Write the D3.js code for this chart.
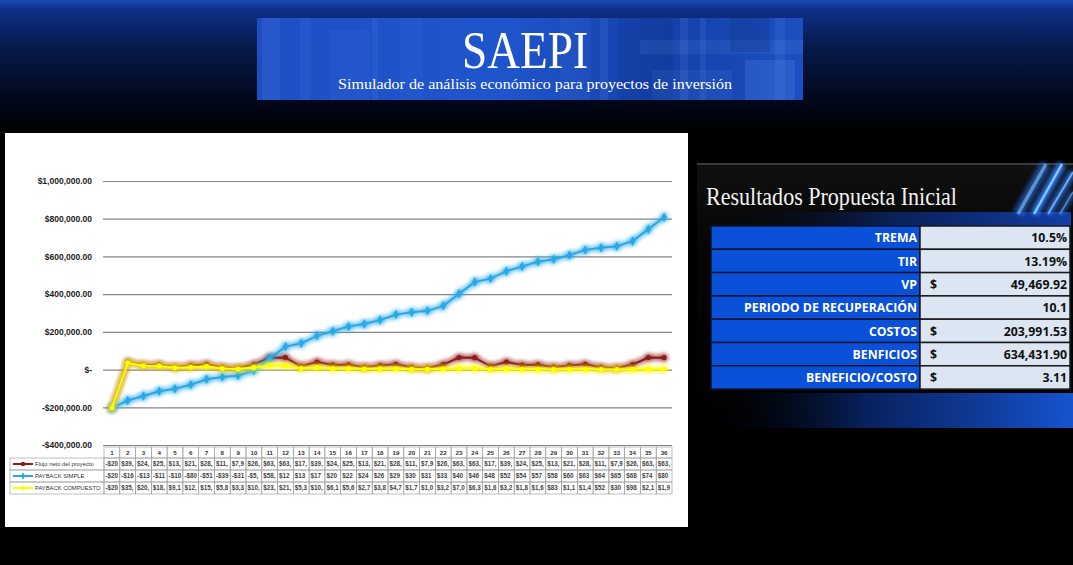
<!DOCTYPE html>
<html>
<head>
<meta charset="utf-8">
<style>
  html, body { margin: 0; padding: 0; background: #000; overflow: hidden; }
</style>
</head>
<body>
<svg id="saepi" width="1073" height="565" viewBox="0 0 1073 565" xmlns="http://www.w3.org/2000/svg"></svg>
<script src="https://d3js.org/d3.v7.min.js"></script>
<script>
// ---- data ----
const periods = [1, 2, 3, 4, 5, 6, 7, 8, 9, 10, 11, 12, 13, 14, 15, 16, 17, 18,
  19, 20, 21, 22, 23, 24, 25, 26, 27, 28, 29, 30, 31, 32, 33, 34, 35, 36];

const flujoNeto = [-203991.53, 39650, 24520, 25210, 13120, 21140, 28650, 11980, 7960,
  26600, 63540, 63320, 17450, 39650, 24520, 25210, 13120, 21140, 28650, 11980, 7960,
  26600, 63540, 63320, 17450, 39650, 24520, 25210, 13120, 21140, 28650, 11980, 7960,
  26600, 63540, 63320];

const paybackSimple = [-203991.53, -164341.53, -139821.53, -114611.53, -101491.53,
  -80351.53, -51701.53, -39721.53, -31761.53, -5161.53, 58378.47, 121698.47, 139148.47,
  178798.47, 203318.47, 228528.47, 241648.47, 262788.47, 291438.47, 303418.47, 311378.47,
  337978.47, 401518.47, 464838.47, 482288.47, 521938.47, 546458.47, 571668.47, 584788.47,
  605928.47, 634578.47, 646558.47, 654518.47, 681118.47, 744658.47, 807978.47];

const paybackCompuesto = [-203991.53, 35882.35, 20082.12, 18685.41, 9100.23, 12832.47,
  15738.61, 5855.02, 3312.44, 10830.18, 23411.05, 21113.27, 5312.66, 10827.41, 6120.35,
  5638.17, 2712.48, 3872.90, 4749.31, 1797.55, 1080.62, 3268.20, 7064.37, 6370.12,
  1632.08, 3266.45, 1828.93, 1670.22, 831.27, 1168.44, 1432.90, 528.61, 308.74, 987.15,
  2131.08, 1922.64];

const seriesNames = ["Flujo neto del proyecto", "PAYBACK SIMPLE", "PAYBACK COMPUESTO"];
const seriesColors = ["#8b1a1a", "#29a8e6", "#ffff00"];

const yTicks = [-400000, -200000, 0, 200000, 400000, 600000, 800000, 1000000];

const resultLabels = ["TREMA", "TIR", "VP", "PERIODO DE RECUPERACIÓN", "COSTOS", "BENFICIOS", "BENEFICIO/COSTO"];
const resultValues = ["10.5%", "13.19%", "49,469.92", "10.1", "203,991.53", "634,431.90", "3.11"];
const resultDollar = [false, false, true, false, true, true, true];

// ---- setup ----
const svg = d3.select("#saepi");
const defs = svg.append("defs");

const money = d3.format(",.2f");
const axisFmt = v => v === 0 ? "$-" : (v < 0 ? "-$" + money(-v) : "$" + money(v));
const cellFmt = v => v < 0 ? "-$" + money(-v) : "$" + money(v);

function linGrad(id, x1, y1, x2, y2, stops) {
  const g = defs.append("linearGradient").attr("id", id)
    .attr("x1", x1).attr("y1", y1).attr("x2", x2).attr("y2", y2);
  stops.forEach(s => g.append("stop").attr("offset", s[0]).attr("stop-color", s[1]).attr("stop-opacity", s[2] == null ? 1 : s[2]));
}

linGrad("topBg", 0, 0, 0, 1, [[0, "#1848b8"], [0.08, "#0d2f86"], [0.35, "#071a4c"], [0.75, "#02081c"], [1, "#000"]]);
linGrad("banner", 0, 0, 1, 0, [[0, "#1d4fc4"], [0.45, "#1f55cc"], [0.75, "#1540a8"], [1, "#1c4fc0"]]);
linGrad("panelBg", 0, 0, 0, 1, [[0, "#101010"], [0.3, "#060606"], [1, "#000"]]);
linGrad("bottomBlue", 0, 0, 1, 0, [[0, "#000", 0], [0.45, "#0a2a78", 0.8], [1, "#1654d0"]]);
linGrad("topBlue", 0, 0, 1, 0, [[0, "#000", 0], [0.5, "#0b2a78", 0.7], [1, "#123fa8"]]);

// glow filters for the chart lines
seriesColors.forEach((c, i) => {
  const f = defs.append("filter").attr("id", "glow" + i)
    .attr("filterUnits", "userSpaceOnUse")
    .attr("x", 0).attr("y", 0).attr("width", 1073).attr("height", 565);
  f.append("feGaussianBlur").attr("in", "SourceGraphic").attr("stdDeviation", 2.8).attr("result", "b");
  const m = f.append("feMerge");
  m.append("feMergeNode").attr("in", "b");
  m.append("feMergeNode").attr("in", "b");
  m.append("feMergeNode").attr("in", "SourceGraphic");
});
const streakGlow = defs.append("filter").attr("id", "streak")
  .attr("filterUnits", "userSpaceOnUse").attr("x", 0).attr("y", 0).attr("width", 1073).attr("height", 565);
streakGlow.append("feGaussianBlur").attr("stdDeviation", 2);

// ---- page background ----
svg.append("rect").attr("width", 1073).attr("height", 565).attr("fill", "#000");
svg.append("rect").attr("width", 1073).attr("height", 132).attr("fill", "url(#topBg)");

// banner
const banner = svg.append("g");
banner.append("rect").attr("x", 257).attr("y", 18).attr("width", 546).attr("height", 82).attr("fill", "url(#banner)");
[[262, 18, 18, 82, 0.10], [300, 18, 10, 82, 0.08], [330, 30, 40, 70, 0.06], [372, 18, 6, 82, 0.10],
 [400, 18, 22, 82, 0.05], [560, 18, 30, 82, 0.06], [600, 18, 8, 82, 0.10], [618, 18, 55, 82, 0.12, "#0a1f66"],
 [640, 40, 163, 14, 0.10], [680, 18, 8, 82, 0.12], [700, 18, 6, 82, 0.10], [730, 18, 40, 34, 0.18, "#0a1f66"],
 [745, 60, 50, 40, 0.16], [775, 18, 10, 82, 0.12], [652, 70, 80, 30, 0.08]]
  .forEach(r => banner.append("rect").attr("x", r[0]).attr("y", r[1]).attr("width", r[2]).attr("height", r[3])
    .attr("fill", r[5] || "#7fb0ff").attr("opacity", r[4]));
banner.append("text").attr("x", 525).attr("y", 68).attr("text-anchor", "middle")
  .attr("font-family", "'Liberation Serif', 'DejaVu Serif', serif").attr("font-size", 52)
  .attr("textLength", 126).attr("lengthAdjust", "spacingAndGlyphs")
  .attr("fill", "#fff").text("SAEPI");
banner.append("text").attr("x", 535).attr("y", 89).attr("text-anchor", "middle")
  .attr("font-family", "'Liberation Serif', 'DejaVu Serif', serif").attr("font-size", 14.5)
  .attr("textLength", 394).attr("lengthAdjust", "spacingAndGlyphs")
  .attr("fill", "#fff").text("Simulador de análisis económico para proyectos de inversión");

// ---- chart panel ----
svg.append("rect").attr("x", 5).attr("y", 133).attr("width", 683).attr("height", 394).attr("fill", "#fff");

const x = d3.scaleBand().domain(periods).range([104, 672]).padding(0);
const cx = p => x(p) + x.bandwidth() / 2;
const y = d3.scaleLinear().domain([-400000, 1000000]).range([445, 181]);

const yAxis = svg.append("g").attr("transform", "translate(103,0)")
  .call(d3.axisLeft(y).tickValues(yTicks).tickFormat(axisFmt)
    .tickSize(-(672 - 103)).tickPadding(11));
yAxis.select(".domain").remove();
yAxis.selectAll(".tick line").attr("stroke", "#868686").attr("stroke-width", 1.2);
yAxis.selectAll(".tick text").attr("fill", "#1a1a1a").attr("font-weight", "bold")
  .attr("font-family", "'Liberation Sans', Arial, sans-serif").attr("font-size", 8.5);

const series = [flujoNeto, paybackSimple, paybackCompuesto];
const symbols = [d3.symbolCircle, d3.symbolDiamond, d3.symbolCircle];
const line = d3.line().x((d, i) => cx(periods[i])).y(d => y(d));

series.forEach((vals, s) => {
  const g = svg.append("g").attr("filter", `url(#glow${s})`);
  g.append("path").datum(vals).attr("d", line)
    .attr("fill", "none").attr("stroke", seriesColors[s]).attr("stroke-width", 2);
  g.selectAll("path.pt").data(vals).join("path").attr("class", "pt")
    .attr("d", d3.symbol().type(symbols[s]).size(s === 1 ? 26 : 20))
    .attr("transform", (d, i) => `translate(${cx(periods[i])},${y(d)})`)
    .attr("fill", seriesColors[s]);
});

// ---- data table under the chart ----
const tbl = svg.append("g").attr("font-family", "'Liberation Sans', Arial, sans-serif");
const headTop = 447, headH = 11, rowH = 12;
const gridColor = "#a3a3a3";

// header numbers
periods.forEach(p => {
  tbl.append("rect").attr("x", x(p)).attr("y", headTop).attr("width", x.bandwidth()).attr("height", headH)
    .attr("fill", "none").attr("stroke", gridColor).attr("stroke-width", 0.7);
  tbl.append("text").attr("x", cx(p)).attr("y", headTop + 8.3).attr("text-anchor", "middle")
    .attr("font-size", 6.2).attr("font-weight", "bold").attr("fill", "#333").text(p);
});

series.forEach((vals, s) => {
  const top = headTop + headH + s * rowH;
  tbl.append("rect").attr("x", 10).attr("y", top).attr("width", 94).attr("height", rowH)
    .attr("fill", "none").attr("stroke", gridColor).attr("stroke-width", 0.7);
  tbl.append("line").attr("x1", 13).attr("x2", 33).attr("y1", top + rowH / 2).attr("y2", top + rowH / 2)
    .attr("stroke", seriesColors[s]).attr("stroke-width", 2);
  tbl.append("path").attr("d", d3.symbol().type(symbols[s]).size(16)())
    .attr("transform", `translate(23,${top + rowH / 2})`).attr("fill", seriesColors[s]);
  tbl.append("text").attr("x", 35).attr("y", top + 8.2).attr("font-size", 5.8).attr("fill", "#333")
    .text(seriesNames[s]);
  vals.forEach((v, i) => {
    const p = periods[i];
    tbl.append("rect").attr("x", x(p)).attr("y", top).attr("width", x.bandwidth()).attr("height", rowH)
      .attr("fill", "none").attr("stroke", gridColor).attr("stroke-width", 0.7);
    const t = tbl.append("text").attr("x", x(p) + 1.5).attr("y", top + 8.3)
      .attr("font-size", 6.3).attr("font-weight", "bold").attr("fill", "#444");
    let str = cellFmt(v);
    t.text(str);
    while (str.length > 1 && t.node().getComputedTextLength() > x.bandwidth() - 2.4) {
      str = str.slice(0, -1);
      t.text(str);
    }
  });
});

// ---- results panel ----
const rp = svg.append("g");
rp.append("rect").attr("x", 697).attr("y", 163).attr("width", 376).attr("height", 268).attr("fill", "url(#panelBg)");
rp.append("line").attr("x1", 697).attr("x2", 1073).attr("y1", 164).attr("y2", 164).attr("stroke", "#4a4a4a").attr("stroke-width", 1.5);
rp.append("rect").attr("x", 700).attr("y", 393).attr("width", 373).attr("height", 35).attr("fill", "url(#bottomBlue)");
rp.append("rect").attr("x", 711).attr("y", 212).attr("width", 360).attr("height", 14).attr("fill", "url(#topBlue)");

// blue streaks top-right
[[1018, 214, 1046, 164, 7, 0.55], [1034, 214, 1062, 164, 5, 0.9], [1048, 214, 1073, 172, 4, 0.7], [1060, 214, 1073, 192, 3, 0.5]]
  .forEach(s => {
    rp.append("line").attr("x1", s[0]).attr("y1", s[1]).attr("x2", s[2]).attr("y2", s[3])
      .attr("stroke", "#2f7cff").attr("stroke-width", s[4] + 4).attr("opacity", s[5]).attr("filter", "url(#streak)");
    rp.append("line").attr("x1", s[0]).attr("y1", s[1]).attr("x2", s[2]).attr("y2", s[3])
      .attr("stroke", "#8fd0ff").attr("stroke-width", s[4] / 2).attr("opacity", s[5]);
  });

rp.append("text").attr("x", 706).attr("y", 205)
  .attr("font-family", "'Liberation Serif', 'DejaVu Serif', serif").attr("font-size", 26)
  .attr("textLength", 251).attr("lengthAdjust", "spacingAndGlyphs")
  .attr("fill", "#f2f2f2").text("Resultados Propuesta Inicial");

const rTop = 226, rH = 23.3;
resultLabels.forEach((lab, i) => {
  const top = rTop + i * rH;
  rp.append("rect").attr("x", 711).attr("y", top).attr("width", 209).attr("height", rH)
    .attr("fill", "#0a50d8").attr("stroke", "#0b1430").attr("stroke-width", 1.5);
  rp.append("rect").attr("x", 920).attr("y", top).attr("width", 150).attr("height", rH)
    .attr("fill", "#dce6f2").attr("stroke", "#1a1a1a").attr("stroke-width", 1.5);
  rp.append("text").attr("x", 917).attr("y", top + 16.3).attr("text-anchor", "end")
    .attr("font-family", "'Open Sans', 'Liberation Sans', sans-serif").attr("font-weight", "bold")
    .attr("font-size", 12.3).attr("fill", "#fff").text(lab);
  if (resultDollar[i]) {
    rp.append("text").attr("x", 930).attr("y", top + 16.3)
      .attr("font-family", "'Open Sans', 'Liberation Sans', sans-serif").attr("font-weight", "bold")
      .attr("font-size", 12.3).attr("fill", "#111").text("$");
  }
  rp.append("text").attr("x", 1067).attr("y", top + 16.3).attr("text-anchor", "end")
    .attr("font-family", "'Open Sans', 'Liberation Sans', sans-serif").attr("font-weight", "bold")
    .attr("font-size", 12.3).attr("fill", "#111").text(resultValues[i]);
});
</script>
</body>
</html>
